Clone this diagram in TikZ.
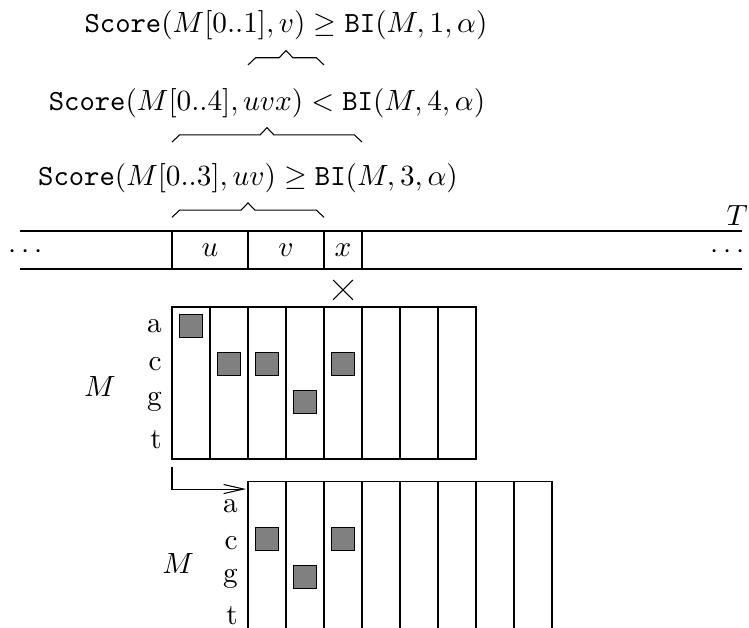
\documentclass[tikz,border=0pt,11pt]{standalone}
\usetikzlibrary{arrows.meta}
\tikzset{
	hit/.style={draw,fill=gray},
	base/.style={left,inner ysep=0.5pt},
	shift arrow/.style={-{Straight Barb[length=7.5pt,width=3.4pt]}},
}
% kinked brace: x from, x to, y
\newcommand{\kbrace}[3]{
	\draw (#1,#3) -- ({#1+0.2},{#3+0.19}) -- ({(#1+#2)/2-0.18},{#3+0.19})
		-- ({(#1+#2)/2},{#3+0.38}) -- ({(#1+#2)/2+0.18},{#3+0.19})
		-- ({#2-0.2},{#3+0.19}) -- (#2,#3);
}
\begin{document}
\begin{tikzpicture}[x=0.5cm,y=0.5cm]
	\useasboundingbox (-4.526,8.079) rectangle (15.184,-8.421);
	\clip (-4.526,8.079) rectangle (15.184,-8.421);
	% the text T
	\draw (-4,2) -- (15,2);
	\draw (-4,1) -- (15,1);
	\foreach \x in {0,2,4,5} \draw (\x,1) -- (\x,2);
	\node (u) at (1,1.5) {$u$};
	\node (v) at (3,1.5) {$v$};
	\node (x) at (4.5,1.5) {$x$};
	\node[inner sep=0pt] (ldots) at (-3.85,1.45) {$\cdots$};
	\node[inner sep=0pt] (rdots) at (14.63,1.45) {$\cdots$};
	\node[inner sep=0pt] (T) at (14.87,2.4) {$T$};

	% scores
	\kbrace{0}{4}{2.36}
	\node[above] (s3) at (2,2.74) {$\texttt{Score}(M[0..3],uv)\geq\texttt{BI}(M,3,\alpha)$};
	\kbrace{0}{5}{4.34}
	\node[above] (s4) at (2.5,4.72) {$\texttt{Score}(M[0..4],uvx)<\texttt{BI}(M,4,\alpha)$};
	\kbrace{2}{4}{6.37}
	\node[above] (s1) at (3,6.75) {$\texttt{Score}(M[0..1],v)\geq\texttt{BI}(M,1,\alpha)$};

	% mismatch
	\draw (4.24,0.71) -- (4.76,0.19);
	\draw (4.24,0.19) -- (4.76,0.71);

	% matrix M
	\draw (0,0) rectangle (8,-4);
	\foreach \x in {1,...,7} \draw (\x,0) -- (\x,-4);
	\foreach \c/\r in {0/0,1/1,2/1,3/2,4/1}
		\draw[hit] (\c+0.2,-\r-0.2) rectangle +(0.6,-0.6);
	\foreach \b [count=\i from 0] in {a,c,g,t}
		\node[base] (m\b) at (0,-\i-0.5) {\b};
	\node (M) at (-1.9,-2.1) {$M$};

	% shifted matrix
	\coordinate (from) at (0,-4.2);
	\coordinate (to) at (1.95,-4.79);
	\draw[shift arrow] (from) |- (to);
	\draw (2,-4.6) rectangle (10,-8.6);
	\foreach \x in {3,...,9} \draw (\x,-4.6) -- (\x,-8.6);
	\foreach \c/\r in {0/1,1/2,2/1}
		\draw[hit] (\c+2.2,-\r-4.8) rectangle +(0.6,-0.6);
	\foreach \b [count=\i from 0] in {a,c,g,t}
		\node[base] (n\b) at (2,-\i*0.96-5.24) {\b};
	\node (M2) at (0.16,-6.74) {$M$};
\end{tikzpicture}
\end{document}
